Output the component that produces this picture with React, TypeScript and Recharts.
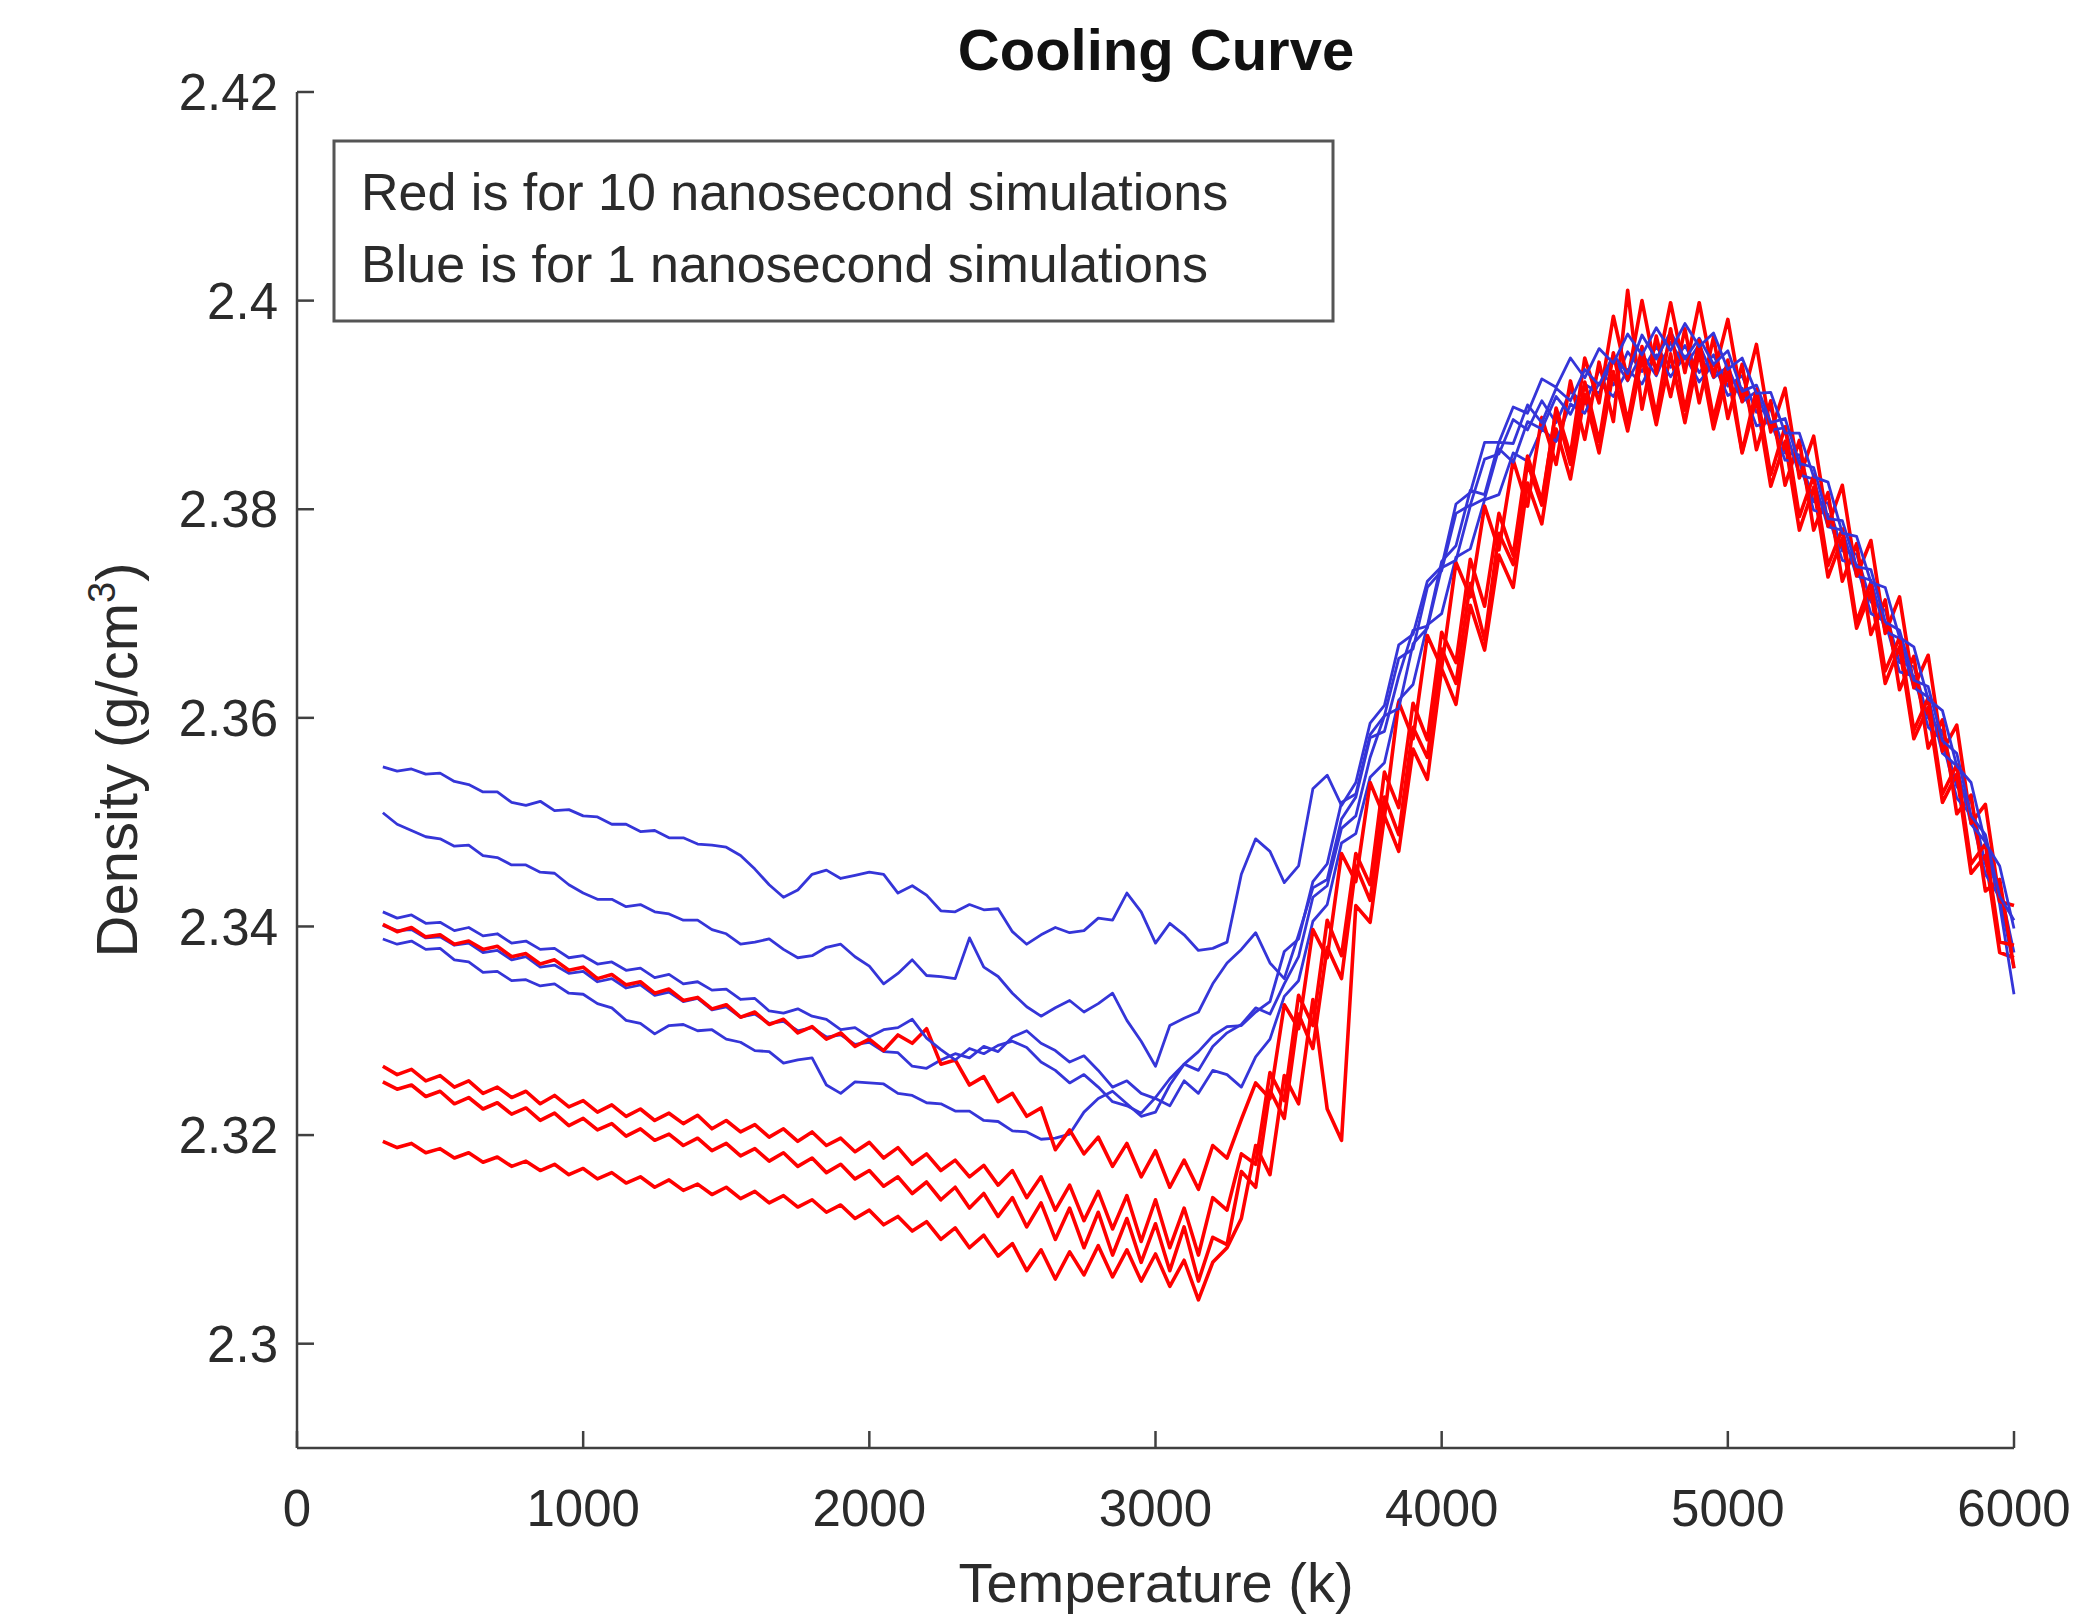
import React from 'react';
import { LineChart, Line, XAxis, YAxis } from 'recharts';

// Temperature samples (K), shared by every run
const TEMPS = [
  300, 350, 400, 450, 500, 550, 600, 650, 700, 750,
  800, 850, 900, 950, 1000, 1050, 1100, 1150, 1200, 1250,
  1300, 1350, 1400, 1450, 1500, 1550, 1600, 1650, 1700, 1750,
  1800, 1850, 1900, 1950, 2000, 2050, 2100, 2150, 2200, 2250,
  2300, 2350, 2400, 2450, 2500, 2550, 2600, 2650, 2700, 2750,
  2800, 2850, 2900, 2950, 3000, 3050, 3100, 3150, 3200, 3250,
  3300, 3350, 3400, 3450, 3500, 3550, 3600, 3650, 3700, 3750,
  3800, 3850, 3900, 3950, 4000, 4050, 4100, 4150, 4200, 4250,
  4300, 4350, 4400, 4450, 4500, 4550, 4600, 4650, 4700, 4750,
  4800, 4850, 4900, 4950, 5000, 5050, 5100, 5150, 5200, 5250,
  5300, 5350, 5400, 5450, 5500, 5550, 5600, 5650, 5700, 5750,
  5800, 5850, 5900, 5950, 6000,
];

// 1 ns runs (blue)
const BLUE_1 = [
  2.3553, 2.3549, 2.3551, 2.3546, 2.3547, 2.3539, 2.3536, 2.3529, 2.3529, 2.3519,
  2.3516, 2.3520, 2.3511, 2.3512, 2.3506, 2.3505, 2.3498, 2.3498, 2.3491, 2.3492,
  2.3485, 2.3485, 2.3479, 2.3478, 2.3476, 2.3468, 2.3455, 2.3440, 2.3428, 2.3435,
  2.3450, 2.3454, 2.3446, 2.3449, 2.3452, 2.3450, 2.3432, 2.3439, 2.3430, 2.3415,
  2.3414, 2.3421, 2.3416, 2.3417, 2.3395, 2.3383, 2.3392, 2.3399, 2.3394, 2.3396,
  2.3408, 2.3406, 2.3432, 2.3414, 2.3384, 2.3403, 2.3392, 2.3377, 2.3379, 2.3385,
  2.3450, 2.3484, 2.3472, 2.3442, 2.3458, 2.3532, 2.3545, 2.3516, 2.3538, 2.3595,
  2.3612, 2.3670, 2.3680, 2.3731, 2.3745, 2.3805, 2.3816, 2.3864, 2.3864, 2.3898,
  2.3892, 2.3925, 2.3917, 2.3945, 2.3926, 2.3954, 2.3940, 2.3968, 2.3948, 2.3974,
  2.3952, 2.3978, 2.3956, 2.3969, 2.3934, 2.3945, 2.3911, 2.3912, 2.3873, 2.3873,
  2.3831, 2.3826, 2.3777, 2.3774, 2.3730, 2.3725, 2.3677, 2.3668, 2.3618, 2.3607,
  2.3554, 2.3538, 2.3480, 2.3458, 2.3398,
];
const BLUE_2 = [
  2.3509, 2.3498, 2.3492, 2.3486, 2.3484, 2.3477, 2.3478, 2.3468, 2.3466, 2.3459,
  2.3459, 2.3452, 2.3451, 2.3440, 2.3432, 2.3426, 2.3426, 2.3419, 2.3421, 2.3414,
  2.3412, 2.3406, 2.3406, 2.3397, 2.3393, 2.3383, 2.3385, 2.3388, 2.3378, 2.3370,
  2.3372, 2.3380, 2.3383, 2.3371, 2.3362, 2.3345, 2.3355, 2.3368, 2.3353, 2.3352,
  2.3350, 2.3389, 2.3361, 2.3352, 2.3336, 2.3323, 2.3314, 2.3322, 2.3329, 2.3318,
  2.3326, 2.3336, 2.3310, 2.3290, 2.3266, 2.3305, 2.3312, 2.3318, 2.3345, 2.3365,
  2.3378, 2.3394, 2.3365, 2.3350, 2.3392, 2.3437, 2.3445, 2.3503, 2.3524, 2.3581,
  2.3587, 2.3640, 2.3684, 2.3688, 2.3750, 2.3765, 2.3818, 2.3814, 2.3864, 2.3863,
  2.3900, 2.3883, 2.3916, 2.3904, 2.3934, 2.3919, 2.3948, 2.3930, 2.3967, 2.3944,
  2.3970, 2.3944, 2.3964, 2.3939, 2.3952, 2.3913, 2.3919, 2.3883, 2.3887, 2.3844,
  2.3840, 2.3791, 2.3789, 2.3745, 2.3742, 2.3692, 2.3684, 2.3636, 2.3630, 2.3578,
  2.3566, 2.3506, 2.3488, 2.3429, 2.3406,
];
const BLUE_3 = [
  2.3414, 2.3408, 2.3411, 2.3403, 2.3404, 2.3396, 2.3399, 2.3391, 2.3393, 2.3384,
  2.3386, 2.3378, 2.3379, 2.3370, 2.3372, 2.3364, 2.3366, 2.3358, 2.3360, 2.3351,
  2.3354, 2.3345, 2.3347, 2.3339, 2.3340, 2.3330, 2.3331, 2.3319, 2.3317, 2.3321,
  2.3314, 2.3311, 2.3301, 2.3303, 2.3294, 2.3301, 2.3303, 2.3311, 2.3293, 2.3282,
  2.3272, 2.3283, 2.3278, 2.3286, 2.3290, 2.3284, 2.3270, 2.3262, 2.3250, 2.3258,
  2.3246, 2.3232, 2.3228, 2.3221, 2.3236, 2.3254, 2.3268, 2.3262, 2.3285, 2.3298,
  2.3306, 2.3322, 2.3316, 2.3345, 2.3371, 2.3428, 2.3439, 2.3494, 2.3506, 2.3562,
  2.3602, 2.3609, 2.3671, 2.3686, 2.3744, 2.3751, 2.3803, 2.3810, 2.3858, 2.3845,
  2.3884, 2.3877, 2.3908, 2.3891, 2.3920, 2.3911, 2.3945, 2.3923, 2.3949, 2.3928,
  2.3960, 2.3937, 2.3958, 2.3926, 2.3937, 2.3903, 2.3913, 2.3876, 2.3878, 2.3833,
  2.3829, 2.3783, 2.3780, 2.3736, 2.3732, 2.3683, 2.3676, 2.3629, 2.3620, 2.3566,
  2.3554, 2.3498, 2.3481, 2.3421, 2.3335,
];
const BLUE_4 = [
  2.3401, 2.3396, 2.3397, 2.3389, 2.3390, 2.3382, 2.3384, 2.3375, 2.3377, 2.3368,
  2.3371, 2.3361, 2.3363, 2.3355, 2.3357, 2.3347, 2.3350, 2.3341, 2.3344, 2.3334,
  2.3337, 2.3328, 2.3331, 2.3320, 2.3323, 2.3313, 2.3316, 2.3307, 2.3309, 2.3300,
  2.3303, 2.3294, 2.3296, 2.3287, 2.3289, 2.3280, 2.3279, 2.3266, 2.3264, 2.3272,
  2.3278, 2.3274, 2.3285, 2.3280, 2.3294, 2.3300, 2.3288, 2.3281, 2.3270, 2.3276,
  2.3262, 2.3246, 2.3252, 2.3240, 2.3235, 2.3228, 2.3252, 2.3240, 2.3262, 2.3258,
  2.3246, 2.3275, 2.3292, 2.3333, 2.3348, 2.3405, 2.3421, 2.3480, 2.3489, 2.3543,
  2.3557, 2.3617, 2.3632, 2.3689, 2.3700, 2.3754, 2.3762, 2.3809, 2.3814, 2.3854,
  2.3846, 2.3877, 2.3865, 2.3901, 2.3892, 2.3921, 2.3908, 2.3934, 2.3920, 2.3948,
  2.3927, 2.3947, 2.3922, 2.3939, 2.3909, 2.3916, 2.3880, 2.3884, 2.3847, 2.3846,
  2.3799, 2.3795, 2.3751, 2.3747, 2.3700, 2.3692, 2.3644, 2.3640, 2.3591, 2.3578,
  2.3523, 2.3507, 2.3450, 2.3428, 2.3360,
];
const BLUE_5 = [
  2.3388, 2.3383, 2.3386, 2.3378, 2.3379, 2.3368, 2.3366, 2.3356, 2.3357, 2.3348,
  2.3349, 2.3343, 2.3345, 2.3336, 2.3335, 2.3326, 2.3322, 2.3310, 2.3307, 2.3297,
  2.3305, 2.3306, 2.3300, 2.3301, 2.3292, 2.3289, 2.3281, 2.3280, 2.3269, 2.3272,
  2.3274, 2.3248, 2.3240, 2.3251, 2.3250, 2.3249, 2.3240, 2.3238, 2.3231, 2.3230,
  2.3223, 2.3223, 2.3214, 2.3213, 2.3204, 2.3203, 2.3196, 2.3197, 2.3201, 2.3222,
  2.3235, 2.3242, 2.3230, 2.3218, 2.3222, 2.3248, 2.3268, 2.3280, 2.3295, 2.3304,
  2.3305, 2.3318, 2.3328, 2.3376, 2.3388, 2.3443, 2.3460, 2.3519, 2.3527, 2.3584,
  2.3602, 2.3657, 2.3666, 2.3725, 2.3741, 2.3796, 2.3804, 2.3848, 2.3853, 2.3886,
  2.3876, 2.3904, 2.3883, 2.3913, 2.3901, 2.3933, 2.3919, 2.3951, 2.3932, 2.3956,
  2.3936, 2.3957, 2.3931, 2.3948, 2.3918, 2.3928, 2.3893, 2.3896, 2.3854, 2.3852,
  2.3807, 2.3806, 2.3760, 2.3757, 2.3711, 2.3703, 2.3653, 2.3649, 2.3600, 2.3587,
  2.3534, 2.3520, 2.3460, 2.3439, 2.3375,
];

// 10 ns runs (red)
const RED_1 = [
  2.3402, 2.3395, 2.3399, 2.3390, 2.3392, 2.3383, 2.3386, 2.3378, 2.3381, 2.3371,
  2.3374, 2.3364, 2.3368, 2.3358, 2.3361, 2.3350, 2.3354, 2.3344, 2.3347, 2.3336,
  2.3340, 2.3329, 2.3332, 2.3321, 2.3325, 2.3313, 2.3318, 2.3306, 2.3311, 2.3298,
  2.3304, 2.3292, 2.3298, 2.3285, 2.3292, 2.3281, 2.3296, 2.3288, 2.3302, 2.3268,
  2.3272, 2.3248, 2.3256, 2.3232, 2.3240, 2.3218, 2.3226, 2.3186, 2.3205, 2.3182,
  2.3198, 2.3170, 2.3192, 2.3160, 2.3185, 2.3150, 2.3176, 2.3148, 2.3190, 2.3178,
  2.3215, 2.3250, 2.3235, 2.3325, 2.3302, 2.3397, 2.3370, 2.3470, 2.3443, 2.3538,
  2.3505, 2.3615, 2.3580, 2.3679, 2.3648, 2.3749, 2.3716, 2.3803, 2.3761, 2.3847,
  2.3803, 2.3888, 2.3843, 2.3923, 2.3867, 2.3941, 2.3884, 2.4010, 2.3896, 2.3966,
  2.3908, 2.3973, 2.3902, 2.3965, 2.3887, 2.3939, 2.3857, 2.3904, 2.3823, 2.3866,
  2.3780, 2.3816, 2.3731, 2.3767, 2.3680, 2.3713, 2.3627, 2.3659, 2.3571, 2.3598,
  2.3508, 2.3526, 2.3434, 2.3445, 2.3360,
];
const RED_2 = [
  2.3266, 2.3258, 2.3263, 2.3252, 2.3257, 2.3246, 2.3252, 2.3240, 2.3246, 2.3236,
  2.3242, 2.3230, 2.3238, 2.3227, 2.3233, 2.3222, 2.3229, 2.3218, 2.3225, 2.3214,
  2.3221, 2.3211, 2.3219, 2.3206, 2.3214, 2.3203, 2.3210, 2.3198, 2.3206, 2.3194,
  2.3203, 2.3190, 2.3197, 2.3184, 2.3193, 2.3178, 2.3188, 2.3172, 2.3182, 2.3166,
  2.3176, 2.3160, 2.3171, 2.3152, 2.3166, 2.3140, 2.3160, 2.3128, 2.3152, 2.3118,
  2.3146, 2.3110, 2.3142, 2.3098, 2.3138, 2.3092, 2.3130, 2.3085, 2.3140, 2.3128,
  2.3182, 2.3172, 2.3260, 2.3233, 2.3334, 2.3305, 2.3406, 2.3372, 2.3470, 2.3440,
  2.3548, 2.3514, 2.3614, 2.3579, 2.3682, 2.3653, 2.3752, 2.3707, 2.3796, 2.3756,
  2.3851, 2.3808, 2.3895, 2.3843, 2.3922, 2.3865, 2.3950, 2.3884, 2.3956, 2.3890,
  2.3973, 2.3895, 2.3962, 2.3887, 2.3943, 2.3855, 2.3915, 2.3833, 2.3879, 2.3793,
  2.3832, 2.3746, 2.3781, 2.3692, 2.3730, 2.3645, 2.3677, 2.3588, 2.3619, 2.3527,
  2.3555, 2.3460, 2.3479, 2.3385, 2.3382,
];
const RED_3 = [
  2.3251, 2.3244, 2.3248, 2.3237, 2.3242, 2.3230, 2.3236, 2.3225, 2.3231, 2.3220,
  2.3226, 2.3214, 2.3221, 2.3209, 2.3216, 2.3205, 2.3211, 2.3199, 2.3206, 2.3195,
  2.3201, 2.3190, 2.3197, 2.3185, 2.3192, 2.3180, 2.3187, 2.3175, 2.3183, 2.3170,
  2.3178, 2.3164, 2.3172, 2.3158, 2.3166, 2.3151, 2.3160, 2.3144, 2.3155, 2.3138,
  2.3150, 2.3130, 2.3144, 2.3122, 2.3140, 2.3112, 2.3135, 2.3100, 2.3130, 2.3092,
  2.3126, 2.3085, 2.3120, 2.3078, 2.3115, 2.3070, 2.3112, 2.3060, 2.3102, 2.3095,
  2.3165, 2.3150, 2.3243, 2.3216, 2.3316, 2.3283, 2.3380, 2.3350, 2.3458, 2.3425,
  2.3524, 2.3488, 2.3591, 2.3562, 2.3666, 2.3633, 2.3729, 2.3675, 2.3777, 2.3747,
  2.3844, 2.3804, 2.3897, 2.3852, 2.3945, 2.3902, 2.3985, 2.3924, 2.4000, 2.3930,
  2.3998, 2.3931, 2.3998, 2.3927, 2.3982, 2.3903, 2.3958, 2.3874, 2.3916, 2.3830,
  2.3870, 2.3784, 2.3823, 2.3736, 2.3770, 2.3681, 2.3716, 2.3629, 2.3660, 2.3568,
  2.3593, 2.3499, 2.3517, 2.3424, 2.3420,
];
const RED_4 = [
  2.3194, 2.3188, 2.3192, 2.3183, 2.3187, 2.3178, 2.3183, 2.3174, 2.3179, 2.3170,
  2.3175, 2.3166, 2.3172, 2.3162, 2.3168, 2.3158, 2.3164, 2.3154, 2.3160, 2.3150,
  2.3157, 2.3147, 2.3153, 2.3143, 2.3150, 2.3139, 2.3146, 2.3135, 2.3142, 2.3131,
  2.3138, 2.3126, 2.3133, 2.3120, 2.3128, 2.3114, 2.3122, 2.3108, 2.3117, 2.3100,
  2.3111, 2.3092, 2.3104, 2.3084, 2.3096, 2.3070, 2.3090, 2.3062, 2.3088, 2.3066,
  2.3094, 2.3064, 2.3090, 2.3060, 2.3086, 2.3055, 2.3080, 2.3042, 2.3078, 2.3092,
  2.3120, 2.3190, 2.3162, 2.3257, 2.3230, 2.3330, 2.3225, 2.3195, 2.3420, 2.3404,
  2.3506, 2.3472, 2.3570, 2.3541, 2.3647, 2.3613, 2.3708, 2.3665, 2.3756, 2.3725,
  2.3825, 2.3786, 2.3877, 2.3829, 2.3910, 2.3854, 2.3932, 2.3875, 2.3945, 2.3881,
  2.3949, 2.3883, 2.3951, 2.3877, 2.3931, 2.3854, 2.3906, 2.3822, 2.3865, 2.3780,
  2.3821, 2.3735, 2.3772, 2.3686, 2.3721, 2.3633, 2.3668, 2.3580, 2.3610, 2.3519,
  2.3546, 2.3451, 2.3468, 2.3375, 2.3370,
];

const X_TICKS = [0, 1000, 2000, 3000, 4000, 5000, 6000];
const Y_TICKS = [2.3, 2.32, 2.34, 2.36, 2.38, 2.4, 2.42];

const BLUE = '#3535d8';
const RED = '#ff0000';
const AXIS = '#404040';
const TEXT = '#2b2b2b';
const FONT = '"Liberation Sans", Arial, Helvetica, sans-serif';

// drawing order: blue and red runs interleaved
const SERIES = [
  { key: 'b5', values: BLUE_5, color: BLUE, width: 2.8 },
  { key: 'r4', values: RED_4, color: RED, width: 3.6 },
  { key: 'b4', values: BLUE_4, color: BLUE, width: 2.8 },
  { key: 'r1', values: RED_1, color: RED, width: 3.6 },
  { key: 'b3', values: BLUE_3, color: BLUE, width: 2.8 },
  { key: 'r3', values: RED_3, color: RED, width: 3.6 },
  { key: 'b2', values: BLUE_2, color: BLUE, width: 2.8 },
  { key: 'r2', values: RED_2, color: RED, width: 3.6 },
  { key: 'b1', values: BLUE_1, color: BLUE, width: 2.8 },
];

const rows = TEMPS.map((t, i) => {
  const row: Record<string, number> = { t };
  SERIES.forEach((s) => {
    row[s.key] = s.values[i];
  });
  return row;
});

const W = 2096;
const H = 1618;

export default function App() {
  const tickStyle = { fill: TEXT, fontSize: 51, fontFamily: FONT };
  return (
    <div style={{ position: 'absolute', left: 0, top: 0, width: W, height: H, background: '#fff' }}>
      <LineChart
        width={W}
        height={H}
        data={rows}
        margin={{ top: 92, right: 82, bottom: 70, left: 97 }}
      >
        <XAxis
          dataKey="t"
          type="number"
          domain={[0, 6000]}
          ticks={X_TICKS}
          height={100}
          tickSize={-17}
          tickMargin={59}
          tick={tickStyle}
          stroke={AXIS}
          strokeWidth={2.5}
          interval={0}
        />
        <YAxis
          type="number"
          domain={[2.29, 2.42]}
          ticks={Y_TICKS}
          width={200}
          tickSize={-17}
          tickMargin={36}
          tick={tickStyle}
          stroke={AXIS}
          strokeWidth={2.5}
          interval={0}
          allowDataOverflow
        />
        {SERIES.map((s) => (
          <Line
            key={s.key}
            dataKey={s.key}
            type="linear"
            stroke={s.color}
            strokeWidth={s.width}
            strokeLinejoin="round"
            dot={false}
            activeDot={false}
            isAnimationActive={false}
          />
        ))}
      </LineChart>

      <svg
        width={W}
        height={H}
        style={{ position: 'absolute', left: 0, top: 0, pointerEvents: 'none' }}
        fontFamily={FONT}
      >
        <text x={1156} y={70} textAnchor="middle" fontSize={58} fontWeight="bold" fill="#111">
          Cooling Curve
        </text>
        <text x={1156} y={1602} textAnchor="middle" fontSize={56} fill={TEXT}>
          Temperature (k)
        </text>
        <text transform="translate(137,760) rotate(-90)" textAnchor="middle" fontSize={58} fill={TEXT}>
          <tspan>Density (g/cm</tspan>
          <tspan dy={-22} fontSize={38}>3</tspan>
          <tspan dy={22}>)</tspan>
        </text>

        <rect x={334} y={141} width={999} height={180} fill="#fff" stroke="#555" strokeWidth={3} />
        <text x={361} y={210} fontSize={52} fill={TEXT}>
          Red is for 10 nanosecond simulations
        </text>
        <text x={361} y={282} fontSize={52} fill={TEXT}>
          Blue is for 1 nanosecond simulations
        </text>
      </svg>
    </div>
  );
}
